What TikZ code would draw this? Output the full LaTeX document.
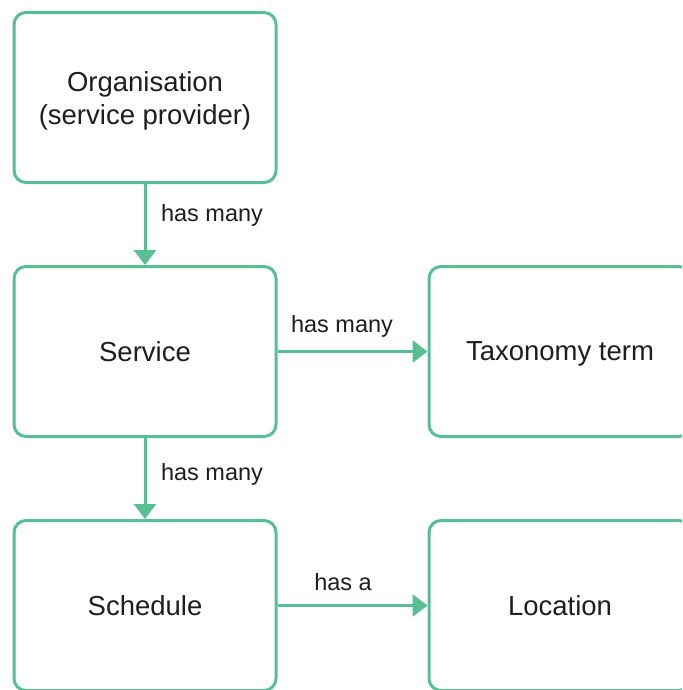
\documentclass[tikz,border=0pt]{standalone}
\usepackage{fontspec}
\setmainfont{Liberation Sans}
\usetikzlibrary{arrows.meta}
\definecolor{linkgreen}{RGB}{88,190,148}
\definecolor{inktext}{RGB}{30,30,30}
\tikzset{
  entity/.style={draw=linkgreen, line width=3pt, rounded corners=12pt,
    minimum width=262pt, minimum height=170pt, fill=white, align=center,
    text=inktext, font=\fontsize{27.5}{33}\selectfont},
  entitytext/.style={align=center, text=inktext, font=\fontsize{27.5}{33}\selectfont},
  relation/.style={draw=linkgreen, line width=3pt,
    -{Triangle[width=22pt,length=15pt]}},
  rellabel/.style={text=inktext, font=\fontsize{23.5}{28}\selectfont, inner sep=0pt}
}
\begin{document}
\begin{tikzpicture}[x=1pt,y=-1pt]
  \useasboundingbox (0,0) rectangle (682,690);
  \clip (0,0) rectangle (682,690);
  \fill[white] (0,0) rectangle (682,690);

  % entities
  \node[entity] (org) at (145,97.5) {};
  \node[entitytext] (orgtext) at (145,101) {Organisation\\(service provider)};
  \node[entity] (service) at (145,351.5) {Service};
  \node[entity] (schedule) at (145,605.5) {Schedule};
  \node[entity, text depth=0pt] (taxonomy) at (560,351.5) {Taxonomy term};
  \node[entity] (location) at (560,605.5) {Location};

  % relations
  \draw[relation] (org) -- (service);
  \draw[relation] (service) -- (taxonomy);
  \draw[relation] (service) -- (schedule);
  \draw[relation] (schedule) -- (location);

  % relation labels
  \node[rellabel] (l1) at (212,215) {has many};
  \node[rellabel] (l2) at (342,326) {has many};
  \node[rellabel] (l3) at (212,474) {has many};
  \node[rellabel] (l4) at (343,582) {has a};
\end{tikzpicture}
\end{document}
